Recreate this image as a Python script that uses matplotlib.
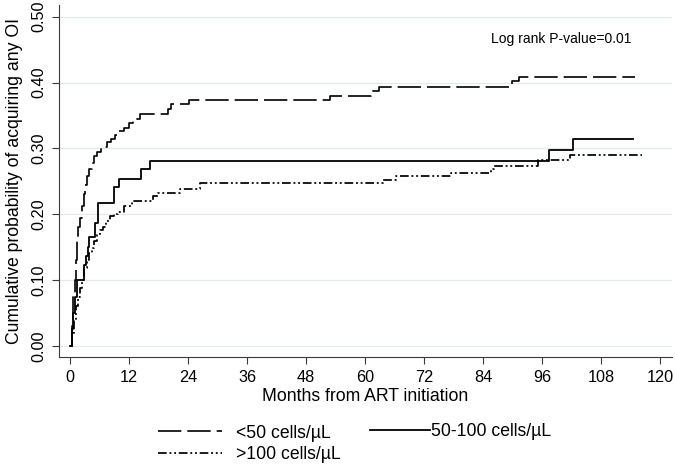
from matplotlib import pyplot as plt
import numpy as np

# Kaplan-Meier style cumulative incidence
# <50 cells/uL
timeLow=[0,0.3,0.5,0.7,0.95,1.2,1.4,1.7,2.0,2.4,2.8,3.1,3.45,3.9,4.4,4.8,5.4,6.2,7.5,8.3,
         9.2,10.0,10.9,11.9,12.9,14.3,20.0,20.6,24.2,52.8,61.3,62.8,90.0,91.3,115.0]
probLow=[0,0.03,0.06,0.08,0.10,0.13,0.16,0.18,0.195,0.212,0.23,0.245,0.258,0.268,0.278,0.288,0.295,0.302,0.309,0.315,
         0.321,0.326,0.331,0.338,0.344,0.353,0.360,0.367,0.373,0.380,0.387,0.394,0.402,0.408,0.408]
# 50-100 cells/uL
timeMid=[0,0.4,0.7,1.0,1.4,2.8,3.2,3.65,3.8,5.1,5.7,8.9,10.0,14.5,16.3,97.5,102.3,114.6]
probMid=[0,0.025,0.05,0.075,0.10,0.123,0.136,0.151,0.166,0.187,0.217,0.241,0.254,0.268,0.281,0.298,0.315,0.315]
# >100 cells/uL
timeHigh=[0,0.4,0.8,1.2,1.6,2.0,2.4,2.9,3.4,3.9,4.4,4.8,5.4,6.1,6.8,7.4,8.1,9.0,9.8,11.0,
          12.6,16.9,17.9,22.3,26.4,63.6,66.3,77.5,85.6,86.3,95.1,101.7,116.4]
probHigh=[0,0.02,0.04,0.06,0.075,0.088,0.10,0.118,0.131,0.141,0.148,0.16,0.169,0.176,0.181,0.19,0.197,0.201,0.204,0.212,
          0.2195,0.227,0.233,0.239,0.2475,0.2525,0.2575,0.263,0.268,0.273,0.282,0.2897,0.2897]

labels=['<50 cells/\u00b5L','50-100 cells/\u00b5L','>100 cells/\u00b5L']
xTicks=np.arange(0,121,12)
yTicks=np.arange(0,0.51,0.1)
pText='Log rank P-value=0.01'


def drawCurves():
    plt.rcParams['font.family']=['Liberation Sans','DejaVu Sans']
    fig=plt.figure(figsize=(6.75,4.66),dpi=100)
    ax=fig.add_axes([0.0879,0.2346,0.9072,0.7547])
    axColor='#3a3a3a'

    for y in yTicks:
        ax.axhline(y,color='#e4eaec',lw=0.9,zorder=0)

    lineLow,=ax.step(timeLow,probLow,where='post',color='black',lw=1.2,
                     linestyle=(0,(14,3.6)),label=labels[0])
    lineMid,=ax.step(timeMid,probMid,where='post',color='black',lw=1.3,
                     linestyle='-',label=labels[1])
    lineHigh,=ax.step(timeHigh,probHigh,where='post',color='black',lw=1.25,
                      linestyle=(0,(5,1.6,1.1,1.6,1.1,1.6)),label=labels[2])

    ax.set_xlim(-2.18,122.4)
    ax.set_ylim(-0.0163,0.5178)
    ax.set_xticks(xTicks)
    ax.set_yticks(yTicks)
    ax.set_yticklabels(['%.2f'%y for y in yTicks],rotation=90,va='center')
    ax.tick_params(axis='both',direction='out',length=5,width=0.8,color=axColor,
                   labelsize=11.7,labelcolor='black')
    ax.tick_params(axis='x',pad=4.5)
    ax.tick_params(axis='y',pad=4)
    for side in ['top','right']:
        ax.spines[side].set_visible(False)
    for side in ['left','bottom']:
        ax.spines[side].set_color(axColor)
        ax.spines[side].set_linewidth(0.8)

    ax.set_xlabel('Months from ART initiation',fontsize=12.7,labelpad=2.5)
    ax.set_ylabel('Cumulative probability of acquiring any OI',fontsize=12.7,labelpad=6)
    ax.text(99.9,0.466,pText,fontsize=10,ha='center',va='center')

    fig.legend([lineLow,lineHigh],[labels[0],labels[2]],loc='center left',
               bbox_to_anchor=(0.2345,0.0475),frameon=False,fontsize=12.7,
               handlelength=3.6,handletextpad=0.8,borderpad=0,borderaxespad=0,
               labelspacing=0.25)
    fig.legend([lineMid],[labels[1]],loc='center left',
               bbox_to_anchor=(0.548,0.0736),frameon=False,fontsize=12.7,
               handlelength=3.4,handletextpad=0.05,borderpad=0,borderaxespad=0)

    fig.savefig('out.png',dpi=100)


if __name__=="__main__":
    drawCurves()
